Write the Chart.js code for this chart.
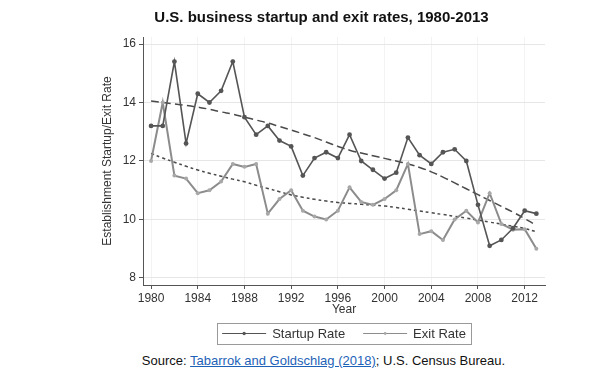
<!DOCTYPE html>
<html>
<head>
<meta charset="utf-8">
<script src="https://cdn.jsdelivr.net/npm/chart.js@4"></script>
<style>
	body { margin: 0; background: #fff; font-family: 'Liberation Sans', Arial, sans-serif; }
	.wrap { position: relative; width: 595px; height: 389px; }
	canvas { position: absolute; left: 0; top: 0; }
	.source { position: absolute; left: 0; width: 647px; top: 353px; text-align: center; font-size: 13px; color: #111; }
	.source a { color: #1d62b8; }
</style>
</head>
<body>
<div class="wrap">
	<canvas id="chart" width="595" height="350"></canvas>
	<div class="source">Source: <a href="#">Tabarrok and Goldschlag (2018)</a>; U.S. Census Bureau.</div>
</div>
<script>
const years = [1980, 1981, 1982, 1983, 1984, 1985, 1986, 1987, 1988, 1989, 1990, 1991, 1992, 1993, 1994, 1995, 1996,
	1997, 1998, 1999, 2000, 2001, 2002, 2003, 2004, 2005, 2006, 2007, 2008, 2009, 2010, 2011, 2012, 2013]
const startupRate = [13.2, 13.2, 15.4, 12.6, 14.3, 14.0, 14.4, 15.4, 13.5, 12.9, 13.2, 12.7, 12.5, 11.5, 12.1, 12.3, 12.1,
	12.9, 12.0, 11.7, 11.4, 11.6, 12.8, 12.2, 11.9, 12.3, 12.4, 12.0, 10.5, 9.1, 9.3, 9.7, 10.3, 10.2]
const exitRate = [12.0, 14.0, 11.5, 11.4, 10.9, 11.0, 11.3, 11.9, 11.8, 11.9, 10.2, 10.7, 11.0, 10.3, 10.1, 10.0, 10.3,
	11.1, 10.6, 10.5, 10.7, 11.0, 11.9, 9.5, 9.6, 9.3, 10.0, 10.3, 9.9, 10.9, 9.85, 9.65, 9.67, 9.0]
// fitted trend lines
const startupTrend = [14.05, 14.0, 13.95, 13.9, 13.84, 13.77, 13.68, 13.6, 13.5, 13.4, 13.3, 13.18, 13.06, 12.93, 12.8, 12.65, 12.5,
	12.37, 12.27, 12.18, 12.09, 12.0, 11.9, 11.78, 11.63, 11.45, 11.25, 11.05, 10.85, 10.65, 10.45, 10.25, 10.03, 9.8]
const exitTrend = [12.26, 12.1, 11.96, 11.82, 11.69, 11.58, 11.48, 11.38, 11.29, 11.17, 11.06, 10.95, 10.84, 10.76, 10.69, 10.63, 10.58,
	10.55, 10.52, 10.49, 10.46, 10.41, 10.35, 10.29, 10.23, 10.17, 10.11, 10.05, 9.98, 9.91, 9.84, 9.77, 9.69, 9.58]
const xTicks = [1980, 1984, 1988, 1992, 1996, 2000, 2004, 2008, 2012]
const yTicks = [8, 10, 12, 14, 16]

const FONT = "'Liberation Sans', Arial, sans-serif"
const STARTUP_COLOR = '#555555'
const EXIT_COLOR = '#8c8c8c'
const TREND_COLOR = '#4a4a4a'

const toPoints = (vals) => years.map((yr, i) => ({ x: yr, y: vals[i] }))

// legend drawn under the plot, boxed like the original
const boxedLegend = {
	id: 'boxedLegend',
	afterDraw(chart) {
		const { ctx, chartArea } = chart
		const items = chart.data.datasets.filter((d) => d.inLegend)
		const top = 323
		const h = 21
		const cy = top + h / 2
		ctx.save()
		ctx.font = `13px ${FONT}`
		const sample = 44
		const gap = 6
		const itemGap = 18
		let total = 0
		items.forEach((d, i) => {
			total += sample + gap + ctx.measureText(d.label).width
			if (i > 0) total += itemGap
		})
		const padX = 5
		const mid = (chartArea.left + chartArea.right) / 2
		const left = mid - total / 2 - padX
		ctx.strokeStyle = '#9a9a9a'
		ctx.lineWidth = 1
		ctx.strokeRect(Math.round(left) + 0.5, top + 0.5, Math.round(total + padX * 2), h)
		let x = left + padX
		items.forEach((d) => {
			ctx.strokeStyle = d.borderColor
			ctx.lineWidth = 1.2
			ctx.beginPath()
			ctx.moveTo(x, cy)
			ctx.lineTo(x + sample, cy)
			ctx.stroke()
			ctx.fillStyle = d.pointBackgroundColor
			ctx.beginPath()
			ctx.arc(x + sample / 2, cy, d.pointRadius * 0.7, 0, Math.PI * 2)
			ctx.fill()
			x += sample + gap
			ctx.fillStyle = '#333'
			ctx.textBaseline = 'middle'
			ctx.fillText(d.label, x, cy + 1)
			x += ctx.measureText(d.label).width + itemGap
		})
		ctx.restore()
	},
}

new Chart(document.getElementById('chart'), {
	type: 'line',
	data: {
		datasets: [
			{
				label: 'Startup Rate',
				inLegend: true,
				data: toPoints(startupRate),
				borderColor: STARTUP_COLOR,
				backgroundColor: STARTUP_COLOR,
				pointBackgroundColor: STARTUP_COLOR,
				pointBorderWidth: 0,
				borderWidth: 1.6,
				pointRadius: 2.4,
				tension: 0,
			},
			{
				label: 'Exit Rate',
				inLegend: true,
				data: toPoints(exitRate),
				borderColor: EXIT_COLOR,
				backgroundColor: EXIT_COLOR,
				pointBackgroundColor: '#a8a8a8',
				pointBorderWidth: 0,
				borderWidth: 2,
				pointRadius: 2,
				tension: 0,
			},
			{
				label: 'Startup trend',
				data: toPoints(startupTrend),
				borderColor: TREND_COLOR,
				borderWidth: 1.5,
				borderDash: [8, 4],
				pointRadius: 0,
				tension: 0.4,
			},
			{
				label: 'Exit trend',
				data: toPoints(exitTrend),
				borderColor: TREND_COLOR,
				borderWidth: 1.5,
				borderDash: [3, 3],
				pointRadius: 0,
				tension: 0.4,
			},
		],
	},
	options: {
		responsive: false,
		animation: false,
		layout: { padding: { left: 98, right: 50, top: 7, bottom: 33 } },
		plugins: {
			legend: { display: false },
			tooltip: { enabled: false },
			title: {
				display: true,
				text: 'U.S. business startup and exit rates, 1980-2013',
				color: '#111',
				font: { family: FONT, size: 15, weight: 'bold' },
				padding: { top: 2, bottom: 10 },
			},
		},
		scales: {
			x: {
				type: 'linear',
				min: 1979.31,
				max: 2013.74,
				afterBuildTicks: (scale) => {
					scale.ticks = xTicks.map((v) => ({ value: v }))
				},
				afterFit: (scale) => {
					scale.height = 32
				},
				ticks: {
					color: '#333',
					font: { family: FONT, size: 12 },
					padding: 2,
					maxRotation: 0,
					callback: (v) => String(v),
				},
				grid: { color: '#f3f3f3', tickColor: '#555', tickLength: 4 },
				border: { color: '#555', width: 1 },
				title: {
					display: true,
					text: 'Year',
					color: '#333',
					font: { family: FONT, size: 12 },
					padding: { top: -3, bottom: 0 },
				},
			},
			y: {
				min: 7.76,
				max: 16.24,
				afterBuildTicks: (scale) => {
					scale.ticks = yTicks.map((v) => ({ value: v }))
				},
				afterFit: (scale) => {
					scale.width = 45
				},
				ticks: {
					color: '#333',
					font: { family: FONT, size: 12 },
					padding: 3,
				},
				grid: { color: '#e6e6e6', tickColor: '#555', tickLength: 4 },
				border: { color: '#555', width: 1 },
				title: {
					display: true,
					text: 'Establishment Startup/Exit Rate',
					color: '#333',
					font: { family: FONT, size: 12 },
					padding: { top: 2, bottom: 0 },
				},
			},
		},
	},
	plugins: [boxedLegend],
})
</script>
</body>
</html>
